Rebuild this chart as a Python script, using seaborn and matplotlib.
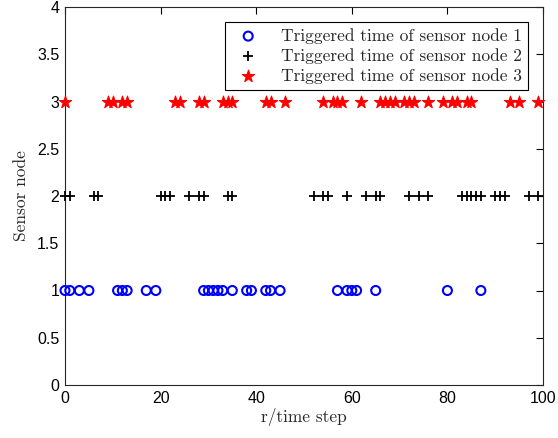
import matplotlib
matplotlib.use("Agg")
import matplotlib.pyplot as plt
import seaborn as sns
import pandas as pd

node1_times = [0, 1, 3, 5, 11, 12, 13, 17, 19, 29, 30, 31, 32, 33, 35, 38, 39, 42, 43, 45,
               57, 59, 60, 61, 65, 80, 87]
node2_times = [0, 1, 6, 7, 20, 21, 22, 26, 28, 29, 34, 35, 52, 54, 55, 59, 63, 65, 66,
               72, 74, 76, 83, 84, 85, 86, 87, 90, 91, 92, 97, 99]
node3_times = [0, 9, 10, 12, 13, 23, 24, 28, 29, 33, 34, 35, 42, 43, 46, 54, 56, 57, 58,
               62, 66, 67, 68, 69, 71, 72, 73, 76, 79, 81, 82, 84, 85, 93, 95, 99]
labels = ["Triggered time of sensor node 1", "Triggered time of sensor node 2",
          "Triggered time of sensor node 3"]
x_ticks = [0, 20, 40, 60, 80, 100]
y_ticks = [0, 0.5, 1, 1.5, 2, 2.5, 3, 3.5, 4]
y_ticklabels = ["0", "0.5", "1", "1.5", "2", "2.5", "3", "3.5", "4"]

sns.set_style("white")
plt.rcParams['font.family'] = ['Liberation Sans', 'DejaVu Sans']

fig = plt.figure(figsize=(5.58, 4.38), dpi=100)
ax = fig.add_axes([65/558, 53/438, 478/558, 378/438])

d1 = pd.DataFrame({"t": node1_times, "n": [1]*len(node1_times)})
d2 = pd.DataFrame({"t": node2_times, "n": [2]*len(node2_times)})
d3 = pd.DataFrame({"t": node3_times, "n": [3]*len(node3_times)})

sns.scatterplot(data=d1, x="t", y="n", ax=ax, marker="o", s=42, facecolors="none",
                edgecolor="#0000ff", linewidth=1.5, label=labels[0], zorder=3, clip_on=False)
sns.scatterplot(data=d2, x="t", y="n", ax=ax, marker="+", s=50, color="black",
                linewidth=1.3, label=labels[1], zorder=3, clip_on=False)
sns.scatterplot(data=d3, x="t", y="n", ax=ax, marker="*", s=85, color="#ff0000",
                edgecolor="#ff0000", linewidth=0.8, label=labels[2], zorder=3, clip_on=False)

ax.set_xlim(0, 100)
ax.set_ylim(0, 4)
ax.set_xticks(x_ticks)
ax.set_xticklabels([str(v) for v in x_ticks])
ax.set_yticks(y_ticks)
ax.set_yticklabels(y_ticklabels)
ax.tick_params(direction="in", top=True, right=True, length=5, width=0.8,
               labelsize=11.5, colors="black", pad=4)
for sp in ax.spines.values():
    sp.set_visible(True)
    sp.set_color("#262626")
    sp.set_linewidth(0.8)

ax.set_xlabel("r/time step", fontfamily="cmr10", fontsize=12.5, labelpad=2)
ax.set_ylabel("Sensor node", fontfamily="cmr10", fontsize=12.5, labelpad=6)

leg = ax.legend(loc="upper right", prop={"family": "cmr10", "size": 12.5},
                frameon=True, fancybox=False, framealpha=1, edgecolor="black",
                borderaxespad=0.85, handletextpad=0.9, labelspacing=0.25,
                borderpad=0.35, handlelength=2.0)
leg.get_frame().set_linewidth(0.8)

fig.savefig("out.png", dpi=100)
